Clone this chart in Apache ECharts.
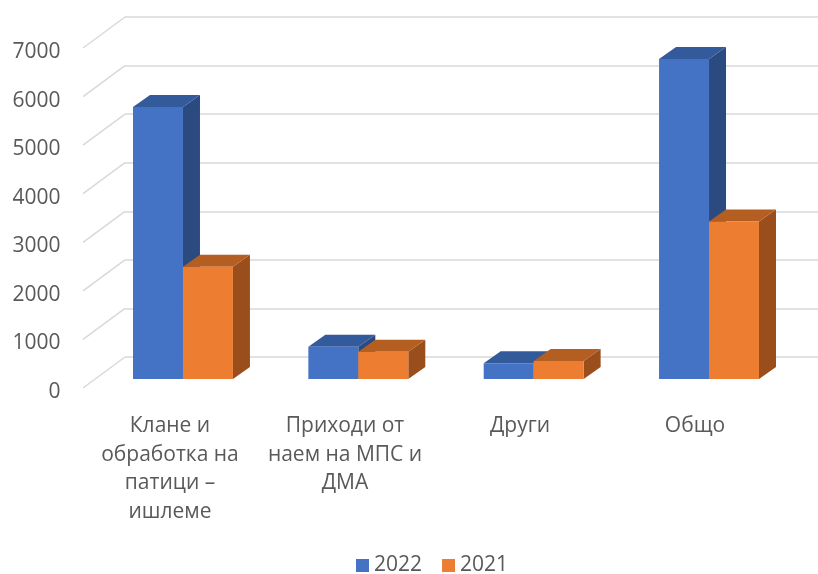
<!DOCTYPE html>
<html>
<head>
<meta charset="utf-8">
<script src="https://cdn.jsdelivr.net/npm/echarts@6/dist/echarts.min.js"></script>
<style>html,body{margin:0;padding:0;background:#fff;}#c{width:818px;height:574px;}</style>
</head>
<body>
<div id="c"></div>
<script>
var categories = ['Клане и\nобработка на\nпатици –\nишлеме', 'Приходи от\nнаем на МПС и\nДМА', 'Други', 'Общо'];
var seriesNames = ['2022', '2021'];
var values2022 = [5600, 665, 325, 6590];
var values2021 = [2310, 563, 371, 3244];
var valueTicks = [0, 1000, 2000, 3000, 4000, 5000, 6000, 7000];

var FONT = '"Open Sans", "Noto Sans", sans-serif';
var TEXT = '#595959';
var GRID_COL = '#d9d9d9';
var FLOOR_DX = -42, FLOOR_DY = 31;
var BAR_DX = 17, BAR_DY = -12;

var palette = [
  { front: '#4472C4', top: '#335A9B', side: '#2B4A80' },
  { front: '#ED7D31', top: '#B45E22', side: '#9A4E1C' }
];

function makeBar(sideIdx) {
  return function (params, api) {
    var cat = api.value(0), val = api.value(1);
    var base = api.coord([cat, 0]);
    var topP = api.coord([cat, val]);
    var band = api.size([1, 0])[0];
    var w = band * 0.285;
    var x0 = base[0] + (sideIdx === 0 ? -w : 0);
    var x1 = x0 + w;
    var yb = base[1], yt = topP[1];
    var c = palette[sideIdx];
    return {
      type: 'group',
      children: [
        { type: 'polygon', shape: { points: [[x1, yt], [x1 + BAR_DX, yt + BAR_DY], [x1 + BAR_DX, yb + BAR_DY], [x1, yb]] }, style: { fill: c.side } },
        { type: 'polygon', shape: { points: [[x0, yt], [x1, yt], [x1 + BAR_DX, yt + BAR_DY], [x0 + BAR_DX, yt + BAR_DY]] }, style: { fill: c.top } },
        { type: 'rect', shape: { x: x0, y: yt, width: w, height: yb - yt }, style: { fill: c.front } }
      ]
    };
  };
}

var chart = echarts.init(document.getElementById('c'), null, { renderer: 'canvas' });
chart.setOption({
  animation: false,
  backgroundColor: '#fff',
  legend: {
    data: seriesNames,
    left: 356, top: 555, padding: 0,
    itemWidth: 13, itemHeight: 13, itemGap: 20,
    icon: 'rect',
    textStyle: { fontFamily: FONT, fontSize: 21, color: TEXT }
  },
  grid: [
    { left: 125, right: 0, top: 17, height: 340 },   // back wall
    { left: 82.5, right: 35.5, top: 52, height: 340 }, // floor front (labels)
    { left: 95.3, right: 21.3, top: 39, height: 340 }  // bar front plane
  ],
  xAxis: [
    { gridIndex: 0, type: 'value', min: 0, max: 1, show: false },
    { gridIndex: 1, type: 'category', data: categories,
      axisLine: { show: false }, axisTick: { show: false }, splitLine: { show: false },
      axisLabel: { interval: 0, margin: 20, fontFamily: FONT, fontSize: 21, lineHeight: 28.5, color: TEXT, align: 'center' } },
    { gridIndex: 2, type: 'category', data: categories, show: false }
  ],
  yAxis: [
    { gridIndex: 0, type: 'value', min: 0, max: 7000, interval: 1000,
      axisLine: { show: false }, axisTick: { show: false }, axisLabel: { show: false },
      splitLine: { show: true, lineStyle: { color: GRID_COL, width: 1.5 } } },
    { gridIndex: 1, type: 'value', min: 0, max: 7000, interval: 1000,
      axisLine: { show: false }, axisTick: { show: false }, splitLine: { show: false },
      axisLabel: { margin: 22, fontFamily: FONT, fontSize: 21, color: TEXT,
        formatter: function (v) { return String(v); } } },
    { gridIndex: 2, type: 'value', min: 0, max: 7000, show: false }
  ],
  series: [
    {
      type: 'custom', name: 'floorLines', xAxisIndex: 0, yAxisIndex: 0, silent: true,
      data: valueTicks.map(function (v) { return [0, v]; }),
      renderItem: function (params, api) {
        var p = api.coord([0, api.value(1)]);
        return { type: 'line', shape: { x1: p[0] + FLOOR_DX, y1: p[1] + FLOOR_DY, x2: p[0], y2: p[1] },
          style: { stroke: GRID_COL, lineWidth: 1.5 } };
      }
    },
    {
      type: 'custom', name: seriesNames[0], xAxisIndex: 2, yAxisIndex: 2,
      itemStyle: { color: palette[0].front },
      data: values2022.map(function (v, i) { return [i, v]; }),
      renderItem: makeBar(0)
    },
    {
      type: 'custom', name: seriesNames[1], xAxisIndex: 2, yAxisIndex: 2,
      itemStyle: { color: palette[1].front },
      data: values2021.map(function (v, i) { return [i, v]; }),
      renderItem: makeBar(1)
    }
  ]
});
</script>
</body>
</html>
